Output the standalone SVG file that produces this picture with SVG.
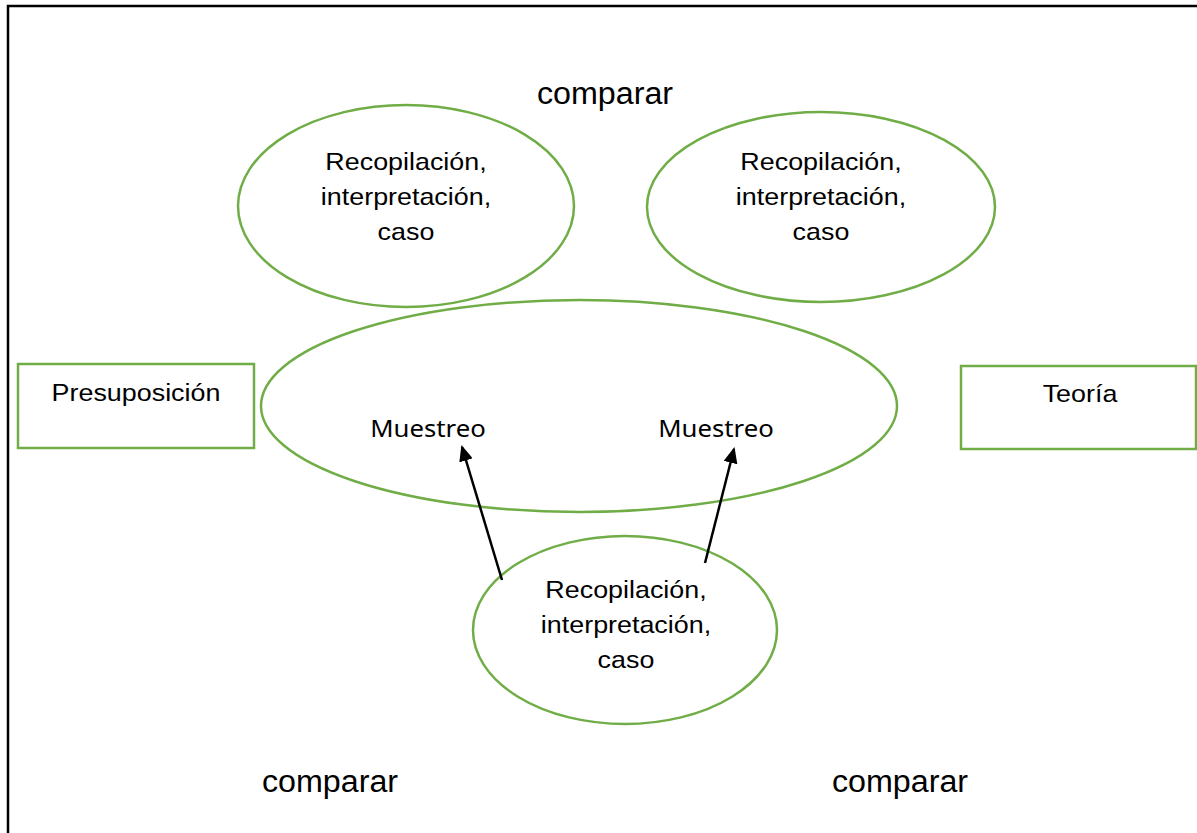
<svg xmlns="http://www.w3.org/2000/svg" width="1197" height="833" viewBox="0 0 1197 833">
<style>
.sh{fill:none;stroke:#70AD47;stroke-width:2.5}
.t{font-family:"Liberation Sans",Arial,sans-serif;font-size:24px;fill:#000;text-anchor:middle}
.m{font-family:"Noto Sans","Open Sans",sans-serif;font-size:23px;fill:#000;text-anchor:middle}
.big{font-family:"Liberation Sans",Arial,sans-serif;font-size:31px;fill:#000;text-anchor:middle}
.c{stroke:#000;stroke-width:2.5;fill:none;marker-end:url(#ah)}
</style>
<defs>
<marker id="ah" markerWidth="16" markerHeight="14" refX="14" refY="7" orient="auto" markerUnits="userSpaceOnUse" viewBox="0 0 16 14">
<path d="M0,0 L16,7 L0,14 z" fill="#000"/>
</marker>
</defs>
<rect width="1197" height="833" fill="#fff"/>
<path d="M8,833 V6 H1197" fill="none" stroke="#000" stroke-width="2.5"/>
<text class="big" transform="translate(605,104) scale(1.04,1)">comparar</text>
<text class="big" transform="translate(330,792) scale(1.04,1)">comparar</text>
<text class="big" transform="translate(900,792) scale(1.04,1)">comparar</text>
<g id="e1">
<ellipse class="sh" cx="406" cy="206" rx="168" ry="101"/>
<text class="t" transform="translate(406,170) scale(1.12,1)">Recopilación,</text>
<text class="t" transform="translate(406,205) scale(1.12,1)">interpretación,</text>
<text class="t" transform="translate(406,240) scale(1.12,1)">caso</text>
</g>
<g id="e2">
<ellipse class="sh" cx="821" cy="207" rx="174" ry="95"/>
<text class="t" transform="translate(821,170) scale(1.12,1)">Recopilación,</text>
<text class="t" transform="translate(821,205) scale(1.12,1)">interpretación,</text>
<text class="t" transform="translate(821,240) scale(1.12,1)">caso</text>
</g>
<g id="big">
<ellipse class="sh" cx="579" cy="406" rx="318" ry="106"/>
<text class="m" transform="translate(428,437) scale(1.12,1)">Muestreo</text>
<text class="m" transform="translate(716,437) scale(1.12,1)">Muestreo</text>
</g>
<g id="e3">
<ellipse class="sh" cx="625" cy="630" rx="152" ry="94"/>
<text class="t" transform="translate(626,598) scale(1.12,1)">Recopilación,</text>
<text class="t" transform="translate(626,633) scale(1.12,1)">interpretación,</text>
<text class="t" transform="translate(626,668) scale(1.12,1)">caso</text>
</g>
<g id="presu">
<rect class="sh" x="18" y="364" width="236" height="84"/>
<text class="t" transform="translate(136,401) scale(1.12,1)">Presuposición</text>
</g>
<g id="teoria">
<rect class="sh" x="961" y="366" width="235" height="83"/>
<text class="t" transform="translate(1080,402) scale(1.12,1)">Teoría</text>
</g>
<g id="connectors">
<line class="c" x1="502" y1="580" x2="462" y2="447"/>
<line class="c" x1="705" y1="563" x2="734" y2="449"/>
</g>
</svg>
